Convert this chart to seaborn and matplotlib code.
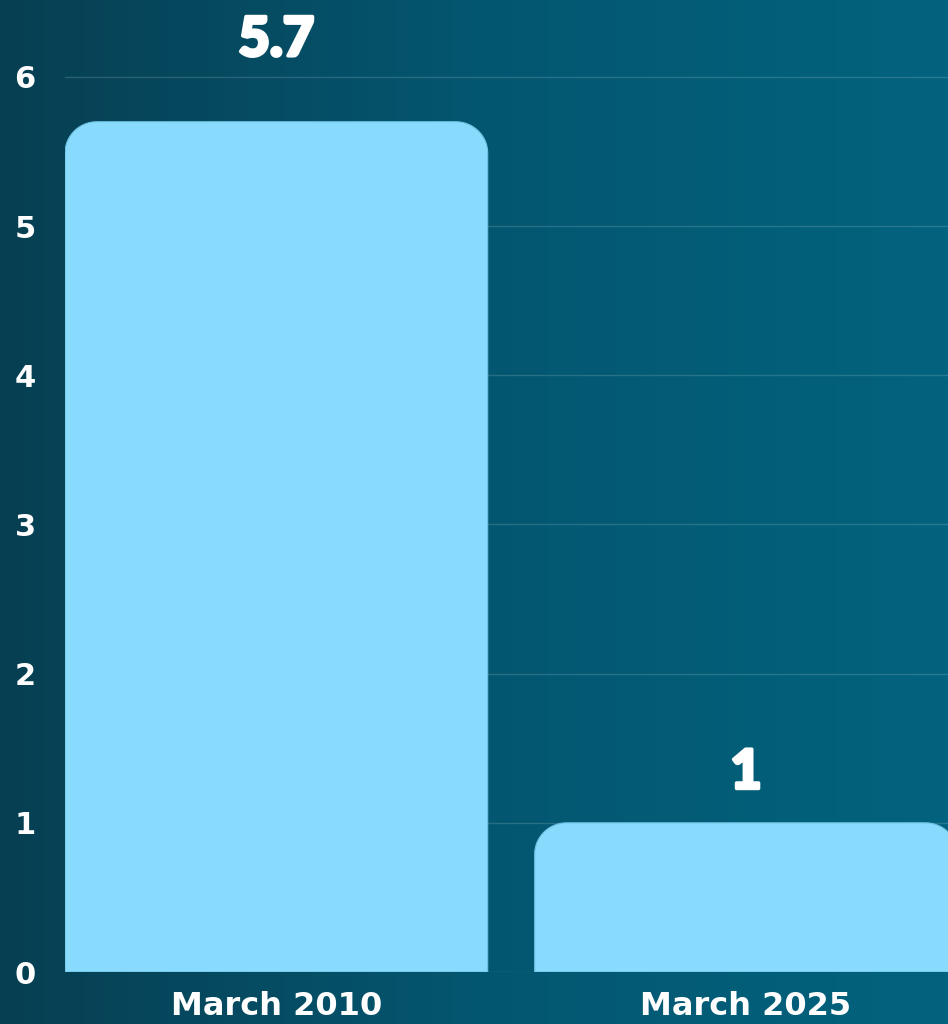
import numpy as np
import pandas as pd
import matplotlib
matplotlib.use("Agg")
import matplotlib.pyplot as plt
import matplotlib.patheffects as pe
import seaborn as sns
from matplotlib.path import Path
from matplotlib.patches import PathPatch
from matplotlib.colors import LinearSegmentedColormap

# data
periods = ["March 2010", "March 2025"]
values = [5.7, 1]
value_labels = ["5.7", "1"]
yticks = [0, 1, 2, 3, 4, 5, 6]

df = pd.DataFrame({"period": periods, "value": values})

sns.set_theme(style="white")
plt.rcParams['font.family'] = ['DejaVu Sans']

fig = plt.figure(figsize=(9.48, 10.24), dpi=100)

# teal gradient background
bg = fig.add_axes([0, 0, 1, 1], zorder=0)
grad = np.linspace(0, 1, 256).reshape(1, -1)
cmap = LinearSegmentedColormap.from_list("bg", ["#073f52", "#045670", "#02637e"])
bg.imshow(grad, aspect='auto', cmap=cmap, extent=[0, 1, 0, 1])
bg.axis('off')

ax = fig.add_axes([65 / 948, 52 / 1024, 1 - 65 / 948, 972 / 1024], zorder=1)
ax.patch.set_alpha(0)
sns.barplot(data=df, x="period", y="value", color="#89dbfd", width=0.9,
            saturation=1, ax=ax)

ax.set_xlim(-0.45, 1.43)
ax.set_ylim(0, 6.516)

# swap plain bars for bars with rounded top corners
rx, ry = 0.068, 0.21
for p in list(ax.patches):
    x0, w, h = p.get_x(), p.get_width(), p.get_height()
    x1 = x0 + w
    t = np.linspace(0, np.pi / 2, 20)
    left = np.column_stack([x0 + rx - rx * np.cos(t), h - ry + ry * np.sin(t)])
    right = np.column_stack([x1 - rx + rx * np.sin(t), h - ry + ry * np.cos(t)])
    verts = np.vstack([[x0, 0], left, right, [x1, 0], [x0, 0]])
    codes = [Path.MOVETO] + [Path.LINETO] * (len(verts) - 2) + [Path.CLOSEPOLY]
    ax.add_patch(PathPatch(Path(verts, codes), facecolor="#89dbfd",
                           edgecolor="#6fc3e4", lw=0.8, zorder=3))
    p.remove()

# value labels (taller bar carries its label a bit higher)
for i, (v, lab) in enumerate(zip(values, value_labels)):
    ax.text(i, v * 1.045 + 0.125, lab, ha='center', va='bottom',
            color='white', fontsize=39, fontweight='black',
            family=['Lato', 'DejaVu Sans'], zorder=4,
            path_effects=[pe.withStroke(linewidth=2.5, foreground='white')])

ax.set_yticks(yticks)
ax.yaxis.grid(True, color='white', alpha=0.15, lw=1)
ax.set_axisbelow(True)
for s in ax.spines.values():
    s.set_visible(False)
ax.tick_params(axis='y', length=0, pad=21, labelsize=22, labelcolor='white')
ax.tick_params(axis='x', length=0, pad=14, labelsize=23, labelcolor='white')
for lbl in ax.get_xticklabels() + ax.get_yticklabels():
    lbl.set_fontweight('bold')
ax.set_xlabel("")
ax.set_ylabel("")

fig.savefig("out.png", dpi=100)
